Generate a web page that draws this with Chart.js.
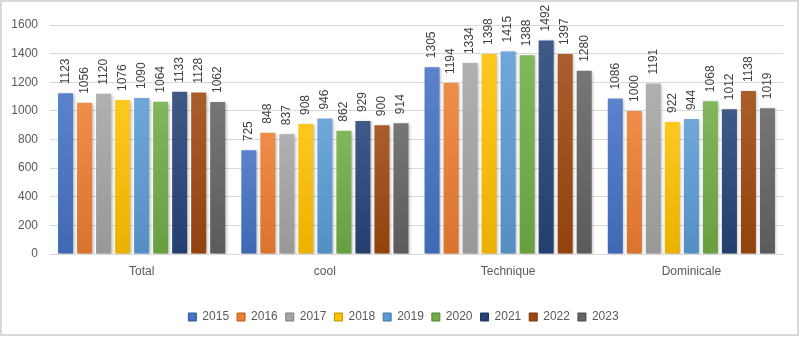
<!DOCTYPE html>
<html>
<head>
<meta charset="utf-8">
<script src="https://cdn.jsdelivr.net/npm/chart.js@4"></script>
<style>
  html, body { margin: 0; padding: 0; background: #fff; }
  #wrap { width: 800px; height: 337px; position: relative; }
</style>
</head>
<body>
<div id="wrap"><canvas id="yearsChart"></canvas></div>
<script>
// categories and yearly series
const categories = ['Total', 'cool', 'Technique', 'Dominicale'];
const years = ['2015', '2016', '2017', '2018', '2019', '2020', '2021', '2022', '2023'];

const v2015 = [1123, 725, 1305, 1086];
const v2016 = [1056, 848, 1194, 1000];
const v2017 = [1120, 837, 1334, 1191];
const v2018 = [1076, 908, 1398, 922];
const v2019 = [1090, 946, 1415, 944];
const v2020 = [1064, 862, 1388, 1068];
const v2021 = [1133, 929, 1492, 1012];
const v2022 = [1128, 900, 1397, 1138];
const v2023 = [1062, 914, 1280, 1019];
const seriesValues = [v2015, v2016, v2017, v2018, v2019, v2020, v2021, v2022, v2023];

const yTicks = [0, 200, 400, 600, 800, 1000, 1200, 1400, 1600];

const baseColors = ['#4472C4', '#ED7D31', '#A5A5A5', '#FFC000', '#5B9BD5', '#70AD47', '#264478', '#9E480E', '#636363'];

const FONT = '"Liberation Sans", Arial, sans-serif';

// mix a hex colour towards white (amt > 0) or black (amt < 0)
function shade(hex, amt) {
    const n = parseInt(hex.slice(1), 16);
    let r = (n >> 16) & 255, g = (n >> 8) & 255, b = n & 255;
    const t = amt > 0 ? 255 : 0;
    const a = Math.abs(amt);
    r = Math.round(r + (t - r) * a);
    g = Math.round(g + (t - g) * a);
    b = Math.round(b + (t - b) * a);
    return `rgb(${r},${g},${b})`;
}

// vertical gradient per bar, lighter on top
function barGradient(base) {
    return function (context) {
        const chart = context.chart;
        const area = chart.chartArea;
        if (!area || context.parsed === undefined) return base;
        const y = chart.scales.y;
        const top = y.getPixelForValue(context.parsed.y);
        const bottom = y.getPixelForValue(0);
        const g = chart.ctx.createLinearGradient(0, top, 0, bottom);
        g.addColorStop(0, shade(base, 0.12));
        g.addColorStop(1, shade(base, -0.08));
        return g;
    };
}

const datasets = years.map((yr, i) => ({
    label: yr,
    data: seriesValues[i],
    backgroundColor: barGradient(baseColors[i]),
    borderWidth: 0,
    categoryPercentage: 0.934,
    barPercentage: 0.79
}));

// soft shadow behind the bars
const barShadow = {
    id: 'barShadow',
    beforeDatasetsDraw(chart) {
        const ctx = chart.ctx;
        ctx.save();
        ctx.shadowColor = 'rgba(0,0,0,0.28)';
        ctx.shadowBlur = 3;
        ctx.shadowOffsetX = 1.5;
        ctx.shadowOffsetY = 1;
    },
    afterDatasetsDraw(chart) {
        chart.ctx.restore();
    }
};

// rotated value labels above each bar
const valueLabels = {
    id: 'valueLabels',
    afterDatasetsDraw(chart) {
        const ctx = chart.ctx;
        ctx.save();
        ctx.font = '12px ' + FONT;
        ctx.fillStyle = '#404040';
        ctx.textAlign = 'left';
        ctx.textBaseline = 'middle';
        chart.data.datasets.forEach((ds, di) => {
            const meta = chart.getDatasetMeta(di);
            meta.data.forEach((bar, idx) => {
                ctx.save();
                ctx.translate(bar.x, bar.y - 9);
                ctx.rotate(-Math.PI / 2);
                ctx.fillText(String(ds.data[idx]), 0, 0);
                ctx.restore();
            });
        });
        ctx.restore();
    }
};

// light frame around the whole figure
const frame = {
    id: 'frame',
    beforeDraw(chart) {
        const ctx = chart.ctx;
        ctx.save();
        ctx.fillStyle = '#ffffff';
        ctx.fillRect(0, 0, chart.width, chart.height);
        ctx.strokeStyle = '#d9d9d9';
        ctx.lineWidth = 2;
        ctx.strokeRect(1, 1, chart.width - 3, chart.height - 3);
        ctx.restore();
    }
};

// centre the legend on the whole figure rather than the padded box
const legendShift = {
    id: 'legendShift',
    afterLayout(chart) {
        if (chart.legend) {
            chart.legend.left += 12;
            chart.legend.right += 12;
        }
    }
};

const ctx = document.getElementById('yearsChart').getContext('2d');
new Chart(ctx, {
    type: 'bar',
    data: { labels: categories, datasets: datasets },
    plugins: [frame, barShadow, valueLabels, legendShift],
    options: {
        responsive: true,
        maintainAspectRatio: false,
        animation: false,
        layout: { padding: { top: 25, right: 17, left: 0, bottom: 4 } },
        plugins: {
            tooltip: { enabled: false },
            legend: {
                position: 'bottom',
                labels: {
                    boxWidth: 8,
                    boxHeight: 8,
                    padding: 8,
                    color: '#595959',
                    font: { size: 12, family: FONT },
                    generateLabels(chart) {
                        return chart.data.datasets.map((ds, i) => ({
                            text: ds.label,
                            fillStyle: baseColors[i],
                            strokeStyle: shade(baseColors[i], -0.25),
                            lineWidth: 1,
                            datasetIndex: i,
                            fontColor: '#595959'
                        }));
                    }
                }
            }
        },
        scales: {
            x: {
                grid: { display: false, drawTicks: false },
                border: { display: true, color: '#d9d9d9' },
                ticks: {
                    color: '#595959',
                    padding: 10,
                    font: { size: 12, family: FONT }
                },
                afterFit(scale) { scale.height = 49; }
            },
            y: {
                min: 0,
                max: 1600,
                afterBuildTicks(scale) { scale.ticks = yTicks.map(v => ({ value: v })); },
                grid: { color: '#d9d9d9', drawTicks: false },
                border: { display: false },
                ticks: {
                    color: '#595959',
                    padding: 12,
                    font: { size: 12, family: FONT },
                    callback: (v) => String(v)
                },
                afterFit(scale) { scale.width = 50; }
            }
        }
    }
});
</script>
</body>
</html>
